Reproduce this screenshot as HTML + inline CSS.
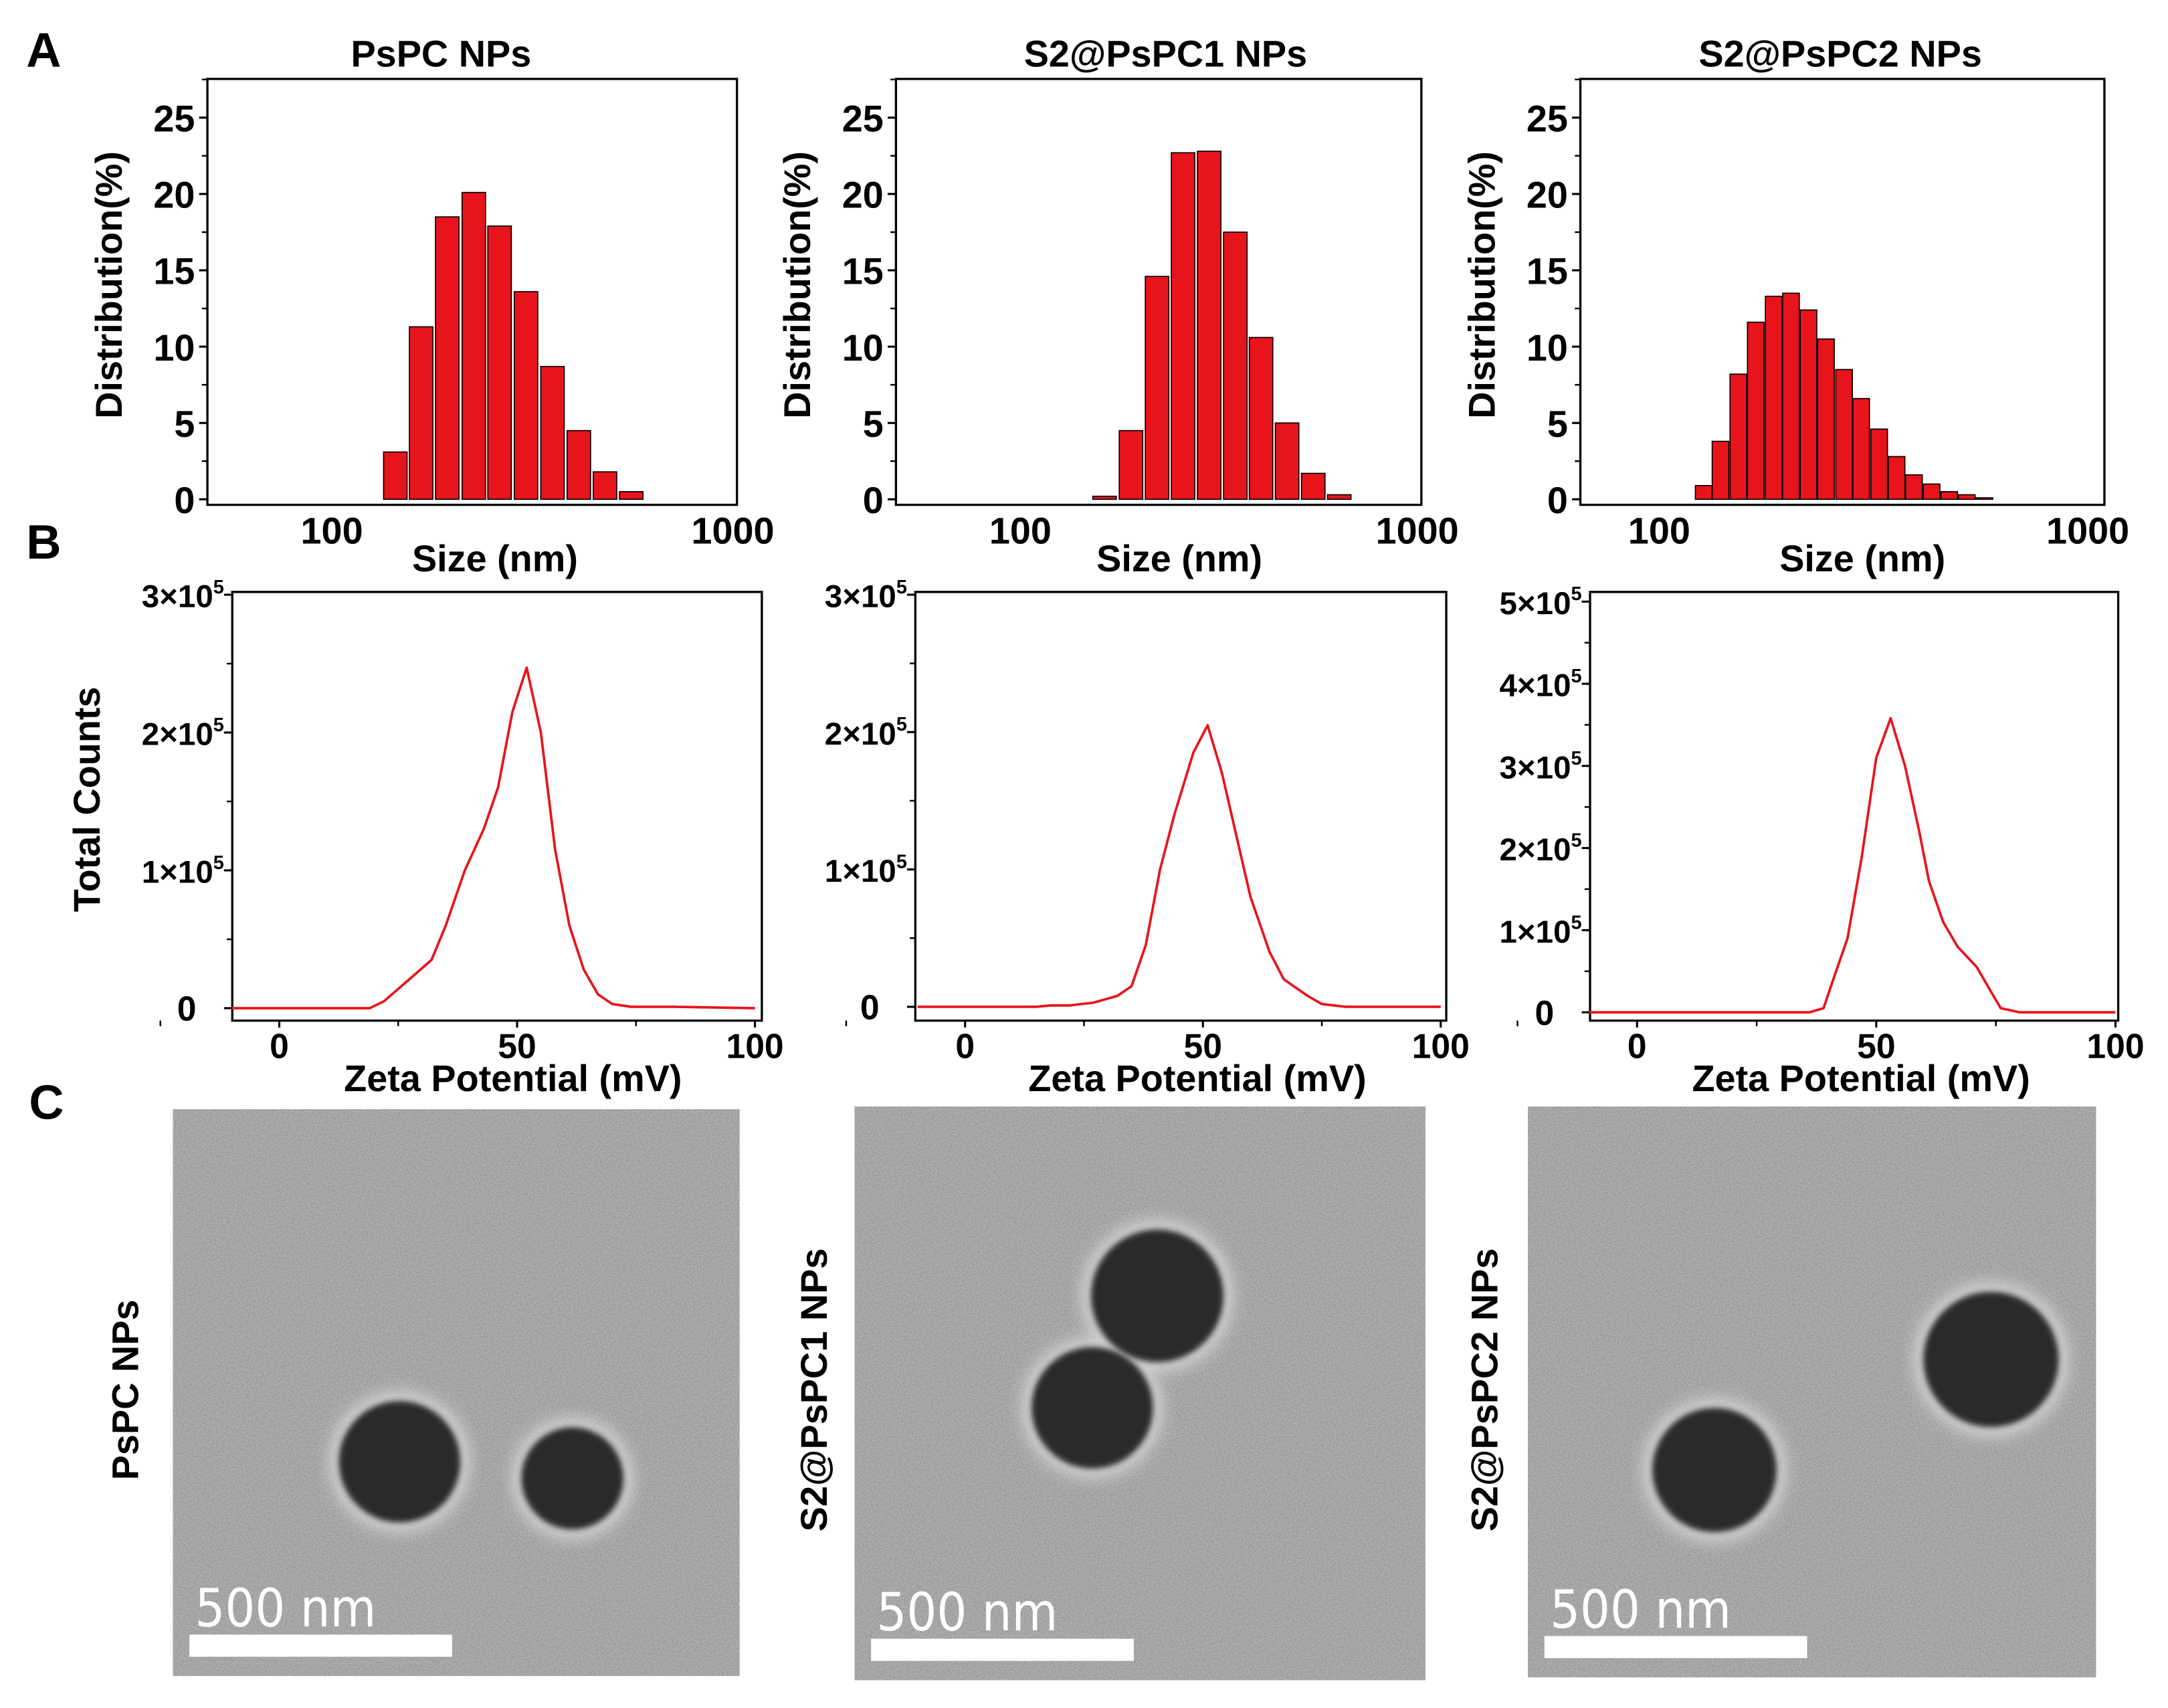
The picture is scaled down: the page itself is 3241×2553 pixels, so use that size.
<!DOCTYPE html>
<html><head><meta charset="utf-8"><style>
html,body{margin:0;padding:0;background:#fff}
svg{display:block}
text{font-family:"Liberation Sans",Arial,sans-serif;font-weight:bold;fill:#000}
</style></head><body>
<svg id="s" width="3241" height="2553" viewBox="0 0 1568 1235" xmlns="http://www.w3.org/2000/svg">
<defs>
<filter id="noise" x="0" y="0" width="100%" height="100%">
<feTurbulence type="fractalNoise" baseFrequency="0.9" numOctaves="2" seed="3" result="t"/>
<feColorMatrix in="t" type="matrix" values="0 0 0 0 0.5  0 0 0 0 0.5  0 0 0 0 0.5  0 0 0 1.2 -0.35" result="n"/>
<feComposite in="n" in2="SourceGraphic" operator="in" result="nn"/>
<feBlend in="SourceGraphic" in2="nn" mode="multiply"/>
</filter>
<filter id="blur2"><feGaussianBlur stdDeviation="2"/></filter>
<filter id="blur6"><feGaussianBlur stdDeviation="6"/></filter>
</defs>
<g id="root"></g>
</svg>
<script>
// ---------- Data ----------
const sizesA1=[144,167,194,226,262,305,355,413,480,558];
const distA1=[3.1,11.3,18.5,20.1,17.9,13.6,8.7,4.5,1.8,0.5];
const sizesA2=[163,190,221,257,299,348,404,470,547,636];
const distA2=[0.2,4.5,14.6,22.7,22.8,17.5,10.6,5.0,1.7,0.3];
const sizesA3=[127,139,153,168,185,203,223,245,270,296,326,358,393,432,475,522,574];
const distA3=[0.9,3.8,8.2,11.6,13.3,13.5,12.4,10.5,8.5,6.6,4.6,2.8,1.6,1.0,0.5,0.3,0.1];
const yTicksA=[0,5,10,15,20,25];
const titlesA=["PsPC NPs","S2@PsPC1 NPs","S2@PsPC2 NPs"];

const zetaB1=[-10,19,22,27,32,35,39,43,46,49,52,55,58,61,64,67,70,74,83,100];
const countB1=[0,0,0.05,0.2,0.35,0.6,1.0,1.3,1.6,2.15,2.47,2.0,1.15,0.6,0.28,0.1,0.03,0.01,0.01,0];
const zetaB2=[-10,15,18,22,27,32,35,38,41,44,48,51,54,57,60,64,67,72,75,80,100];
const countB2=[0,0,0.01,0.01,0.03,0.08,0.15,0.45,1.0,1.4,1.85,2.05,1.7,1.25,0.8,0.4,0.2,0.08,0.02,0,0];
const zetaB3=[-10,36,39,41,44,47,50,53,56,59,61,64,67,71,74,76,80,100];
const countB3=[0,0,0.05,0.4,0.9,1.9,3.1,3.58,3.0,2.2,1.6,1.1,0.8,0.55,0.25,0.05,0,0];
const yMaxB=[3,3,5];
const xTicksB=[0,50,100];

// ---------- helpers ----------
const NS="http://www.w3.org/2000/svg";
const root=document.getElementById('root');
function el(tag,attrs,parent,txt){const e=document.createElementNS(NS,tag);for(const k in attrs)e.setAttribute(k,attrs[k]);if(txt!==undefined)e.textContent=txt;(parent||root).appendChild(e);return e;}

// panel letters
[["A",19,48],["B",19,404],["C",21,809]].forEach(([t,x,y])=>{
 const e=el('text',{x:x,y:y,'font-size':35},root,t);
 
 
});

// ---------- Panel A ----------
const panA=[
 {x0:150,x1:533,xa:240,dec:290,sizes:sizesA1,dist:distA1,bw:17,tc:319,xc:358},
 {x0:648,x1:1028,xa:738,dec:287,sizes:sizesA2,dist:distA2,bw:17,tc:843,xc:853},
 {x0:1143,x1:1522,xa:1200,dec:310,sizes:sizesA3,dist:distA3,bw:12,tc:1331,xc:1347}
];
panA.forEach((p,i)=>{
 const g=el('g',{});
 
 
 const yT=57,yB=365;
 const ys=v=>361-v*11.04;
 const xs=s=>p.xa+(Math.log10(s)-2)*p.dec;
 p.sizes.forEach((s,k)=>{
  const h=p.dist[k]*11.04;
  const b=el('rect',{x:xs(s)-p.bw/2,y:ys(p.dist[k]),width:p.bw,height:h,fill:'#e8141c',stroke:'#000','stroke-width':0.8},g);
  
  
 });
 const fr=el('rect',{x:p.x0,y:yT,width:p.x1-p.x0,height:yB-yT,fill:'none',stroke:'#000','stroke-width':1.6},g);
 
 
 yTicksA.forEach(v=>{
  el('line',{x1:p.x0-6,x2:p.x0,y1:ys(v),y2:ys(v),stroke:'#000','stroke-width':1.5},g);
  el('line',{x1:p.x0-4,x2:p.x0,y1:ys(v+2.5),y2:ys(v+2.5),stroke:'#000','stroke-width':1.2},g);
  const t=el('text',{x:p.x0-9,y:ys(v)+10,'font-size':27,'text-anchor':'end'},g,String(v));
  
  
 });
 [100,1000].forEach(v=>{
  const t=el('text',{x:xs(v),y:393,'font-size':27,'text-anchor':'middle'},g,String(v));
  
  
 });
 const xt=el('text',{x:p.xc,y:413,'font-size':27,'text-anchor':'middle'},g,'Size (nm)');
 
 
 const yt=el('text',{transform:`translate(${p.x0-62},${(yT+yB)/2-5}) rotate(-90)`,'font-size':27,'text-anchor':'middle'},g,'Distribution(%)');
 
 
 const tt=el('text',{x:p.tc,y:48,'font-size':27,'text-anchor':'middle'},g,titlesA[i]);
 
 
});

// ---------- Panel B ----------
const panB=[
 {x0:168,x1:551,z0:202,z50:374,y0:729,yTop:430,yMax:yMaxB[0],zs:zetaB1,cs:countB1,yt:true,xc:371},
 {x0:662,x1:1046,z0:698,z50:870,y0:728,yTop:430,yMax:yMaxB[1],zs:zetaB2,cs:countB2,xc:866},
 {x0:1150,x1:1532,z0:1184,z50:1357,y0:732,yTop:435,yMax:yMaxB[2],zs:zetaB3,cs:countB3,xc:1346}
];
panB.forEach((p,i)=>{
 const g=el('g',{});
 
 
 const yT=428,yB=738;
 const per=(p.y0-p.yTop)/p.yMax;
 const ys=v=>p.y0-v*per;
 const xs=z=>p.z0+z*(p.z50-p.z0)/50;
 el('rect',{x:p.x0,y:yT,width:p.x1-p.x0,height:yB-yT,fill:'none',stroke:'#000','stroke-width':1.6},g);
 for(let v=0;v<=p.yMax;v++){
  el('line',{x1:p.x0-6,x2:p.x0,y1:ys(v),y2:ys(v),stroke:'#000','stroke-width':1.5},g);
  if(v<p.yMax) el('line',{x1:p.x0-4,x2:p.x0,y1:ys(v+0.5),y2:ys(v+0.5),stroke:'#000','stroke-width':1.2},g);
  const t=el('text',{x:p.x0-6,y:ys(v)+9,'font-size':23,'text-anchor':'end'},g);
  if(v===0){t.textContent='0';t.setAttribute('font-size',25);t.setAttribute('x',p.x0-26);}
  else{t.textContent=v+'×10';el('tspan',{dy:-10,'font-size':14},t,'5');}
  
  
 }
 xTicksB.forEach(v=>{
  el('line',{x1:xs(v),x2:xs(v),y1:yB,y2:yB+5,stroke:'#000','stroke-width':1.5},g);
  el('line',{x1:xs(v-25),x2:xs(v-25),y1:yB,y2:yB+4,stroke:'#000','stroke-width':1.2},g);
  const t=el('text',{x:xs(v),y:765,'font-size':25,'text-anchor':'middle'},g,String(v));
  
  
 });
 const pts=p.zs.map((z,k)=>xs(z).toFixed(1)+','+ys(p.cs[k]).toFixed(1)).join(' ');
 const ln=el('polyline',{points:pts,fill:'none',stroke:'#e8141c','stroke-width':1.8,'stroke-linejoin':'round'},g);
 
 
 const xt=el('text',{x:p.xc,y:789,'font-size':27,'text-anchor':'middle'},g,'Zeta Potential (mV)');
 
 
 if(p.yt){
  const yt=el('text',{transform:`translate(72,${(yT+yB)/2-5}) rotate(-90)`,'font-size':27,'text-anchor':'middle'},g,'Total Counts');
  
  
 }
});

// ---------- Panel C (TEM images) ----------
const tem=[
 {x:125,y:802,w:410,h:410,label:'PsPC NPs',lx:100,parts:[[289,1057,44],[414,1069,37]]},
 {x:618,y:800,w:413,h:415,label:'S2@PsPC1 NPs',lx:598,parts:[[837,937,48],[790,1018,44]]},
 {x:1105,y:800,w:411,h:413,label:'S2@PsPC2 NPs',lx:1083,parts:[[1440,983,49],[1240,1063,45]]}
];
tem.forEach((t,i)=>{
 const g=el('g',{});
 
 
 const cp=el('clipPath',{id:'cp'+i},g);
 el('rect',{x:t.x,y:t.y,width:t.w,height:t.h},cp);
 const inner=el('g',{'clip-path':`url(#cp${i})`},g);
 el('rect',{x:t.x,y:t.y,width:t.w,height:t.h,fill:'#b0b0b0',filter:'url(#noise)'},inner);
 t.parts.forEach(([cx,cy,r])=>{
  el('circle',{cx:cx,cy:cy,r:r+6,fill:'#d8d8d8',filter:'url(#blur6)'},inner);
 });
 t.parts.forEach(([cx,cy,r])=>{
  const c=el('circle',{cx:cx,cy:cy,r:r,fill:'#2a2a2a',filter:'url(#blur2)'},inner);
  
  
 });
 const bar=el('rect',{x:t.x+12,y:t.y+t.h-30,width:190,height:16,fill:'#fff'},g);
 
 
 const st=el('text',{x:t.x+16,y:t.y+t.h-36,'font-size':38,fill:'#fff',style:'fill:#fff;font-weight:normal;font-family:"DejaVu Sans Condensed","DejaVu Sans",sans-serif'},g,'500 nm');
 
 
 const lb=el('text',{transform:`translate(${t.lx},1005) rotate(-90)`,'font-size':27,'text-anchor':'middle'},g,t.label);
 
 
});
</script>
</body></html>
